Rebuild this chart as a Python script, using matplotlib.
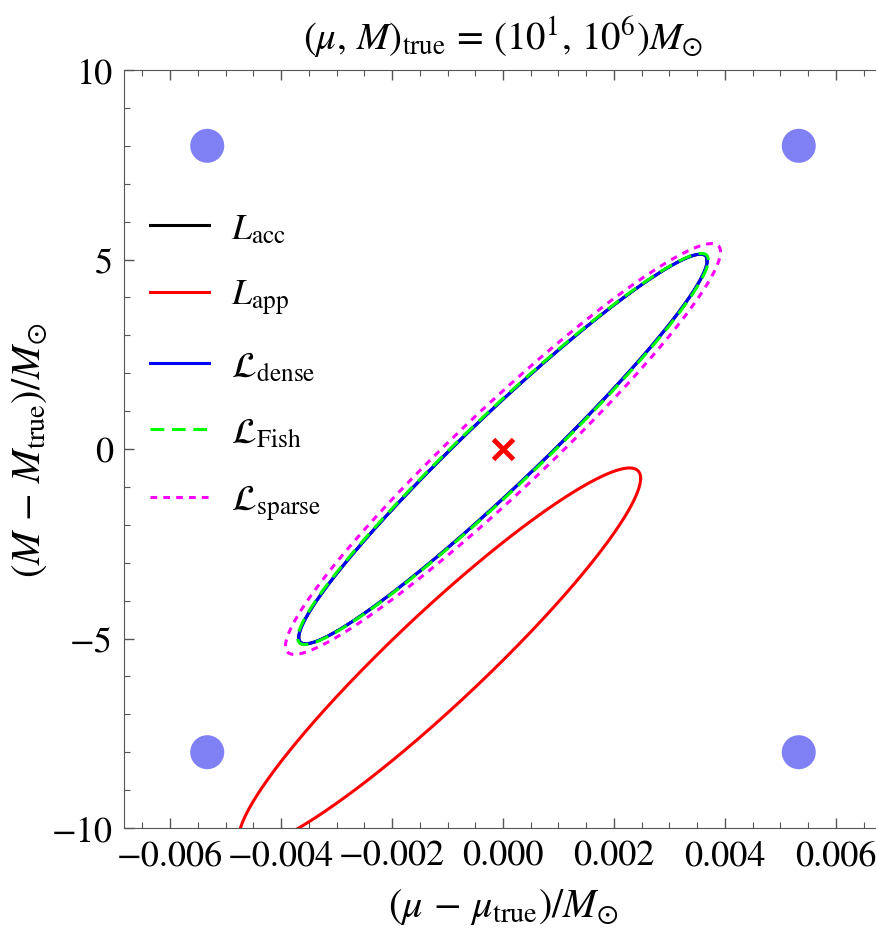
import numpy as np
import matplotlib
matplotlib.use("Agg")
import matplotlib.pyplot as plt
from matplotlib.ticker import MultipleLocator, FuncFormatter

plt.rcParams['font.family'] = 'STIXGeneral'
plt.rcParams['mathtext.fontset'] = 'stix'

# likelihood contours: centre, widths and correlation in (mu, M) offsets [M_sun]
labels = [r'$L_{\rm acc}$', r'$L_{\rm app}$', r'$\mathcal{L}_{\rm dense}$',
          r'$\mathcal{L}_{\rm Fish}$', r'$\mathcal{L}_{\rm sparse}$']
colors = ['black', '#ff0000', '#0000ff', '#00ff00', '#ff00ff']
center_mu = [0.0, -0.00114, 0.0, 0.0, 0.0]
center_M = [0.0, -5.51, 0.0, 0.0, 0.0]
sigma_mu = [0.00368, 0.00362, 0.00368, 0.00370, 0.00392]
sigma_M = [5.14, 5.01, 5.14, 5.16, 5.42]
rho = [0.967, 0.945, 0.967, 0.966, 0.959]

# true point and the four blue markers
true_mu, true_M = 0.0, 0.0
dot_mu = [-0.00533, 0.00533, -0.00533, 0.00533]
dot_M = [8, 8, -8, -8]

fig = plt.figure(figsize=(8.76, 9.37), dpi=100)
ax = fig.add_axes([124 / 876, 1 - 829 / 937, 758 / 876, 758 / 937])

t = np.linspace(0, 2 * np.pi, 600)
styles = ['-', '-', '-', (0, (4.5, 2.5)), (0, (2.2, 2.0))]
for i in range(len(labels)):
    x = center_mu[i] + sigma_mu[i] * np.cos(t)
    y = center_M[i] + sigma_M[i] * (rho[i] * np.cos(t) + np.sqrt(1 - rho[i] ** 2) * np.sin(t))
    ax.plot(x, y, color=colors[i], lw=2.2, linestyle=styles[i], label=labels[i])

ax.scatter(dot_mu, dot_M, s=600, color='#8080f5', edgecolors='none', zorder=3)
ax.plot(true_mu, true_M, marker='x', color='#ff0000', markersize=15, mew=3.5, zorder=4)

ax.set_xlim(-0.00683, 0.00683)
ax.set_ylim(-10, 10)
ax.xaxis.set_major_locator(MultipleLocator(0.002))
ax.xaxis.set_minor_locator(MultipleLocator(0.0005))
ax.yaxis.set_major_locator(MultipleLocator(5))
ax.yaxis.set_minor_locator(MultipleLocator(1))
ax.xaxis.set_major_formatter(FuncFormatter(lambda v, p: ('%.3f' % v).replace('-', '\u2212')))
ax.yaxis.set_major_formatter(FuncFormatter(lambda v, p: ('%d' % round(v)).replace('-', '\u2212')))
ax.tick_params(which='both', direction='in', top=True, right=False, color='#555555', labelsize=26)
ax.tick_params(which='major', length=7, width=1, pad=8)
ax.tick_params(which='minor', length=4, width=0.8)
for s in ax.spines.values():
    s.set_color('#555555')
ax.spines['right'].set_visible(False)

ax.set_xlabel(r'$(\mu\,-\,\mu_{\rm true})/M_{\odot}$', fontsize=29, labelpad=10)
ax.set_ylabel(r'$(M\,-\,M_{\rm true})/M_{\odot}$', fontsize=29, labelpad=2)
ax.set_title(r'$(\mu,\,M)_{\rm true}\,=\,(10^1,\,10^6)M_{\odot}$', fontsize=28, pad=16)

ax.legend(loc='upper left', bbox_to_anchor=(0.034, 0.812), frameon=False, fontsize=26,
          handlelength=1.65, handletextpad=0.6, labelspacing=0.9, borderpad=0, borderaxespad=0)

fig.savefig('out.png', dpi=100)
